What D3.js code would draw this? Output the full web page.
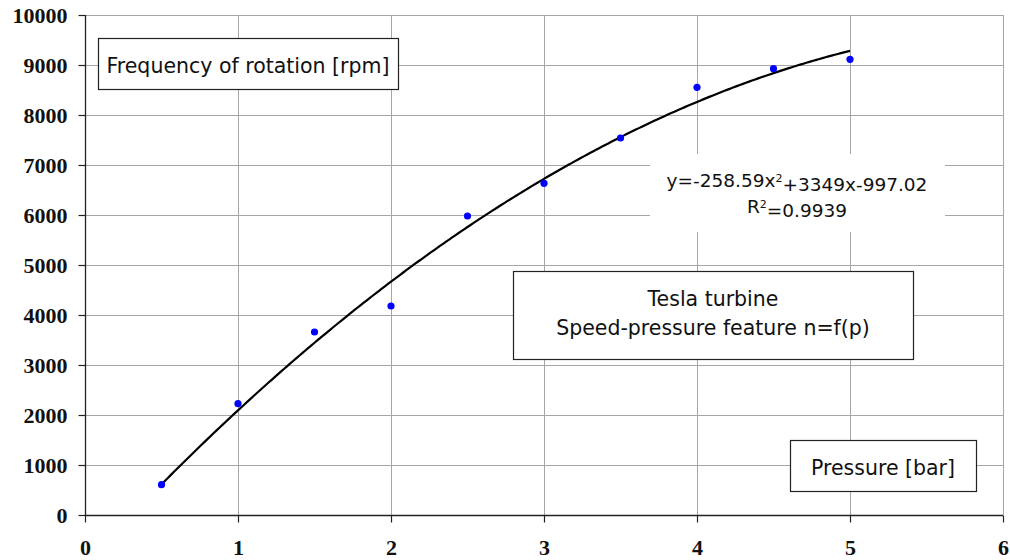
<!DOCTYPE html>
<html>
<head>
<meta charset="utf-8">
<script src="https://cdn.jsdelivr.net/npm/d3@7"></script>
<style>
  html, body { margin: 0; padding: 0; background: #fff; }
  svg { display: block; }
</style>
</head>
<body>
<svg id="chart" width="1010" height="560"></svg>
<script>
// ---- data ----
const pressure = [0.5, 1, 1.5, 2, 2.5, 3, 3.5, 4, 4.5, 5];
const speed = [606, 2226, 3660, 4180, 5980, 6633, 7540, 8553, 8927, 9113];
const trendCoef = [-258.59, 3349, -997.02]; // a, b, c of y = a x^2 + b x + c
const xTicks = [0, 1, 2, 3, 4, 5, 6];
const yTicks = [0, 1000, 2000, 3000, 4000, 5000, 6000, 7000, 8000, 9000, 10000];
const yLabelText = "Frequency of rotation [rpm]";
const xLabelText = "Pressure [bar]";
const titleLines = ["Tesla turbine", "Speed-pressure feature n=f(p)"];
const r2Text = "0.9939";

// ---- layout ----
const svg = d3.select("#chart");
const x = d3.scaleLinear().domain([0, 6]).range([85, 1003]);
const y = d3.scaleLinear().domain([0, 10000]).range([515, 15]);

const sans = "'DejaVu Sans', Verdana, sans-serif";
const serif = "'Liberation Serif', 'Times New Roman', serif";

// gridlines
const grid = svg.append("g");
grid.selectAll("line.h").data(yTicks.filter(d => d > 0)).join("line")
  .attr("x1", x(0)).attr("x2", x(6))
  .attr("y1", d => y(d) + 0.5).attr("y2", d => y(d) + 0.5)
  .attr("stroke", "#a6a6a6").attr("stroke-width", 1);
grid.selectAll("line.v").data(xTicks.filter(d => d > 0)).join("line")
  .attr("y1", y(10000)).attr("y2", y(0))
  .attr("x1", d => x(d) + 0.5).attr("x2", d => x(d) + 0.5)
  .attr("stroke", "#a6a6a6").attr("stroke-width", 1);

// axes
const yAxis = d3.axisLeft(y).tickValues(yTicks).tickSize(7).tickPadding(11).tickFormat(d3.format("d"));
const xAxis = d3.axisBottom(x).tickValues(xTicks).tickSize(7).tickPadding(17).tickFormat(d3.format("d"));

const gy = svg.append("g").attr("transform", `translate(${x(0) + 0.5},0)`).call(yAxis);
const gx = svg.append("g").attr("transform", `translate(0,${y(0) + 0.5})`).call(xAxis);
[gy, gx].forEach(g => {
  g.select(".domain").attr("stroke", "#222").attr("stroke-width", 1.3);
  g.selectAll(".tick line").attr("stroke", "#222").attr("stroke-width", 1.2);
  g.selectAll(".tick text")
    .attr("fill", "#111")
    .style("font-family", serif)
    .style("font-weight", "bold")
    .style("font-size", "22px");
});
gy.selectAll(".tick text").attr("dy", "0.35em");
gx.selectAll(".tick text").attr("dy", "0.69em");
gy.select(".domain").attr("d", `M0,${y(10000)}V${y(0)}`);
gx.select(".domain").attr("d", `M${x(0)},0H${x(6)}`);

// trendline
const tx = d3.range(0.5, 5.0001, 0.02);
const poly = v => trendCoef[0] * v * v + trendCoef[1] * v + trendCoef[2];
svg.append("path")
  .datum(tx)
  .attr("fill", "none")
  .attr("stroke", "#000")
  .attr("stroke-width", 2.2)
  .attr("d", d3.line().x(d => x(d)).y(d => y(poly(d))));

// points
svg.append("g").selectAll("circle").data(pressure).join("circle")
  .attr("cx", (d) => x(d))
  .attr("cy", (d, i) => y(speed[i]))
  .attr("r", 3.6)
  .attr("fill", "#0000ff");

// text boxes
function box(x0, y0, w, h) {
  svg.append("rect").attr("x", x0 + 0.5).attr("y", y0 + 0.5).attr("width", w).attr("height", h)
    .attr("fill", "#fff").attr("stroke", "#222").attr("stroke-width", 1.2);
}

// y label box
box(98, 38, 300, 51);
svg.append("text").attr("x", 248).attr("y", 73)
  .attr("text-anchor", "middle")
  .style("font-family", sans).style("font-size", "20.5px").attr("fill", "#111")
  .text(yLabelText);

// x label box
box(790, 440, 186, 51);
svg.append("text").attr("x", 883).attr("y", 475)
  .attr("text-anchor", "middle")
  .style("font-family", sans).style("font-size", "20.5px").attr("fill", "#111")
  .text(xLabelText);

// title box
box(513, 271, 400, 88);
svg.append("text").attr("x", 713).attr("y", 306)
  .attr("text-anchor", "middle")
  .style("font-family", sans).style("font-size", "20.5px").attr("fill", "#111")
  .text(titleLines[0]);
svg.append("text").attr("x", 713).attr("y", 335)
  .attr("text-anchor", "middle")
  .style("font-family", sans).style("font-size", "20.5px").attr("fill", "#111")
  .text(titleLines[1]);

// equation label
svg.append("rect").attr("x", 650).attr("y", 154).attr("width", 295).attr("height", 78).attr("fill", "#fff");
const fmt = v => String(v);
const eq = svg.append("text").attr("x", 797).attr("y", 187)
  .attr("text-anchor", "middle")
  .style("font-family", sans).style("font-size", "18.5px").attr("fill", "#111");
eq.append("tspan").text(`y=${fmt(trendCoef[0])}x`);
eq.append("tspan").attr("dy", "-0.5em").style("font-size", "11px").text("2");
eq.append("tspan").attr("dy", "0.5em").text(`+${fmt(trendCoef[1])}x${fmt(trendCoef[2])}`);
const r2 = svg.append("text").attr("x", 797).attr("y", 213)
  .attr("text-anchor", "middle")
  .style("font-family", sans).style("font-size", "18.5px").attr("fill", "#111");
r2.append("tspan").text("R");
r2.append("tspan").attr("dy", "-0.5em").style("font-size", "11px").text("2");
r2.append("tspan").attr("dy", "0.5em").text(`=${r2Text}`);
</script>
</body>
</html>
